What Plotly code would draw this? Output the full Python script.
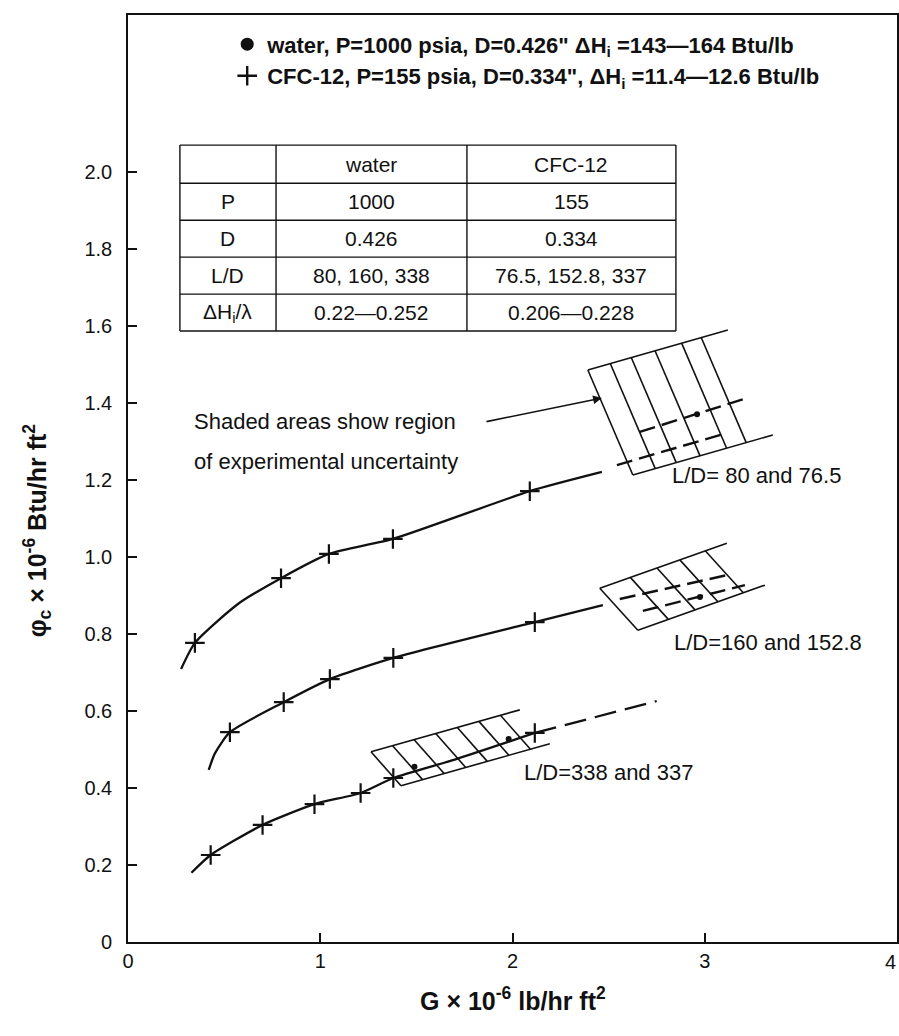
import plotly.graph_objects as go

# ---------------- data (G x 10^-6 lb/hr ft2, phi_c x 10^-6 Btu/hr ft2) ----------------
# CFC-12 measured points (+)
g_ld80 = [0.348, 0.796, 1.045, 1.378, 2.09]
phi_ld80 = [0.777, 0.945, 1.008, 1.047, 1.171]
g_ld160 = [0.53, 0.81, 1.05, 1.38, 2.116]
phi_ld160 = [0.545, 0.623, 0.683, 0.738, 0.831]
g_ld338 = [0.43, 0.70, 0.97, 1.21, 1.38, 2.116]
phi_ld338 = [0.226, 0.304, 0.358, 0.387, 0.426, 0.543]

# faired curves through the CFC-12 data
curve_ld80_g = [0.276, 0.348, 0.572, 0.796, 1.045, 1.378, 2.09, 2.465]
curve_ld80_phi = [0.709, 0.777, 0.878, 0.945, 1.008, 1.047, 1.171, 1.221]
curve_ld160_g = [0.42, 0.452, 0.53, 0.81, 1.05, 1.38, 2.116, 2.47]
curve_ld160_phi = [0.447, 0.49, 0.545, 0.623, 0.683, 0.738, 0.831, 0.875]
curve_ld338_g = [0.33, 0.43, 0.70, 0.97, 1.21, 1.38, 1.70, 2.116]
curve_ld338_phi = [0.18, 0.226, 0.304, 0.358, 0.387, 0.426, 0.474, 0.543]
extrap_ld338_g = [2.116, 2.75]
extrap_ld338_phi = [0.543, 0.626]

# water points (filled circles)
water_g = [1.49, 1.98, 2.975, 2.96]
water_phi = [0.455, 0.527, 0.896, 1.371]

# uncertainty bands: upper edge end points, offset of the lower edge, hatch stations
band_ld80_g = [2.392, 3.120]
band_ld80_phi = [1.486, 1.590]
band_ld80_offset = [0.234, -0.273]
band_ld80_hatch = [0, 0.16, 0.31, 0.48, 0.67, 0.81]
band_ld160_g = [2.454, 3.115]
band_ld160_phi = [0.919, 1.036]
band_ld160_offset = [0.198, -0.109]
band_ld160_hatch = [0, 0.24, 0.45, 0.63, 0.83]
band_ld338_g = [1.264, 2.038]
band_ld338_phi = [0.494, 0.603]
band_ld338_offset = [0.156, -0.088]
band_ld338_hatch = [0, 0.145, 0.29, 0.435, 0.58, 0.725, 0.87]

# dashed trend lines inside the bands
band_ld80_upper_g = [2.662, 3.219]
band_ld80_upper_phi = [1.325, 1.413]
band_ld80_lower_g = [2.543, 3.115]
band_ld80_lower_phi = [1.239, 1.322]
band_ld160_upper_g = [2.558, 3.115]
band_ld160_upper_phi = [0.891, 0.953]
band_ld160_lower_g = [2.678, 3.209]
band_ld160_lower_phi = [0.860, 0.927]

# annotation arrow (tail -> head)
arrow_g = [1.857, 2.465]
arrow_phi = [1.351, 1.413]

# legend and table text
legend_labels = [
    "water, P=1000 psia, D=0.426\" \u0394H<sub>i</sub> =143\u2014164 Btu/lb",
    "CFC-12, P=155 psia, D=0.334\", \u0394H<sub>i</sub> =11.4\u201412.6 Btu/lb",
]
table_header = ["", "water", "CFC-12"]
table_rows = [
    ["P", "1000", "155"],
    ["D", "0.426", "0.334"],
    ["L/D", "80, 160, 338", "76.5, 152.8, 337"],
    ["\u0394H<sub>i</sub>/\u03bb", "0.22\u20140.252", "0.206\u20140.228"],
]
curve_labels = ["L/D= 80 and 76.5", "L/D=160 and 152.8", "L/D=338 and 337"]
curve_label_g = [2.818, 2.829, 2.049]
curve_label_phi = [1.213, 0.777, 0.44]
note_lines = ["Shaded areas show region", "of experimental uncertainty"]

x_ticks = [0, 1, 2, 3]
x_last = 4
y_ticks = [0, 0.2, 0.4, 0.6, 0.8, 1.0, 1.2, 1.4, 1.6, 1.8, 2.0]
y_tick_text = ["0", "0.2", "0.4", "0.6", "0.8", "1.0", "1.2", "1.4", "1.6", "1.8", "2.0"]

# ---------------- styling ----------------
INK = "#111111"
THIN = "Liberation Sans, Arial, sans-serif"
BOLD = "Liberation Sans Narrow, Arial Narrow, Liberation Sans, sans-serif"

fig = go.Figure()


def curve(g, phi, dash="solid", width=2.3):
    fig.add_trace(go.Scatter(
        x=g, y=phi, mode="lines", showlegend=False, hoverinfo="skip",
        line=dict(color=INK, width=width, dash=dash, shape="spline", smoothing=0.6),
    ))


curve(curve_ld80_g, curve_ld80_phi)
curve(curve_ld160_g, curve_ld160_phi)
curve(curve_ld338_g, curve_ld338_phi)
curve(extrap_ld338_g, extrap_ld338_phi, dash="22px,9px")


def band(g, phi, off, stations):
    xs, ys = [], []
    dg, dp = g[1] - g[0], phi[1] - phi[0]
    # upper and lower edges
    xs += [g[0], g[1], None, g[0] + off[0], g[1] + off[0], None]
    ys += [phi[0], phi[1], None, phi[0] + off[1], phi[1] + off[1], None]
    # hatching
    for f in stations:
        x0, y0 = g[0] + f * dg, phi[0] + f * dp
        xs += [x0, x0 + off[0], None]
        ys += [y0, y0 + off[1], None]
    fig.add_trace(go.Scatter(x=xs, y=ys, mode="lines", showlegend=False, hoverinfo="skip",
                             line=dict(color=INK, width=1.6)))


band(band_ld80_g, band_ld80_phi, band_ld80_offset, band_ld80_hatch)
band(band_ld160_g, band_ld160_phi, band_ld160_offset, band_ld160_hatch)
band(band_ld338_g, band_ld338_phi, band_ld338_offset, band_ld338_hatch)

for g, p in [(band_ld80_upper_g, band_ld80_upper_phi), (band_ld80_lower_g, band_ld80_lower_phi),
             (band_ld160_upper_g, band_ld160_upper_phi), (band_ld160_lower_g, band_ld160_lower_phi)]:
    fig.add_trace(go.Scatter(x=g, y=p, mode="lines", showlegend=False, hoverinfo="skip",
                             line=dict(color=INK, width=2.4, dash="16px,7px")))

# data markers
for g, p in [(g_ld80, phi_ld80), (g_ld160, phi_ld160), (g_ld338, phi_ld338)]:
    fig.add_trace(go.Scatter(x=g, y=p, mode="markers", showlegend=False, hoverinfo="skip",
                             marker=dict(symbol="cross-thin", size=14, color=INK,
                                         line=dict(width=2.2, color=INK))))
fig.add_trace(go.Scatter(x=water_g, y=water_phi, mode="markers", showlegend=False, hoverinfo="skip",
                         marker=dict(symbol="circle", size=6, color=INK)))

# legend entries
fig.add_trace(go.Scatter(x=[None], y=[None], mode="markers", name=legend_labels[0],
                         marker=dict(symbol="circle", size=13, color=INK)))
fig.add_trace(go.Scatter(x=[None], y=[None], mode="markers", name=legend_labels[1],
                         marker=dict(symbol="cross-thin", size=14, color=INK,
                                     line=dict(width=2.4, color=INK))))

# ---------------- table ----------------
col_edges = [0.270, 0.770, 1.763, 2.850]
row_edges = [2.070, 1.971, 1.875, 1.779, 1.683, 1.587]
shapes = []
for xe in col_edges:
    shapes.append(dict(type="line", xref="x", yref="y", x0=xe, x1=xe, y0=row_edges[-1], y1=row_edges[0],
                       line=dict(color=INK, width=1.4)))
for ye in row_edges:
    shapes.append(dict(type="line", xref="x", yref="y", x0=col_edges[0], x1=col_edges[-1], y0=ye, y1=ye,
                       line=dict(color=INK, width=1.4)))

annotations = []
for r, row in enumerate([table_header] + table_rows):
    yc = (row_edges[r] + row_edges[r + 1]) / 2
    for c, txt in enumerate(row):
        if not txt:
            continue
        xc = (col_edges[c] + col_edges[c + 1]) / 2
        annotations.append(dict(x=xc, y=yc, xref="x", yref="y", text=txt, showarrow=False,
                                font=dict(family=THIN, size=21, color=INK)))

for txt, gx, py in zip(curve_labels, curve_label_g, curve_label_phi):
    annotations.append(dict(x=gx, y=py, xref="x", yref="y", text=txt, showarrow=False,
                            xanchor="left", font=dict(family=THIN, size=22, color=INK)))

for txt, py in zip(note_lines, [1.351, 1.249]):
    annotations.append(dict(x=0.333, y=py, xref="x", yref="y", text=txt, showarrow=False,
                            xanchor="left", font=dict(family=THIN, size=22, color=INK)))

annotations.append(dict(x=arrow_g[1], y=arrow_phi[1], ax=arrow_g[0], ay=arrow_phi[0],
                        xref="x", yref="y", axref="x", ayref="y", text="", showarrow=True,
                        arrowhead=2, arrowsize=1.1, arrowwidth=1.6, arrowcolor=INK))

# last x tick label sits against the right frame edge
annotations.append(dict(x=x_last, y=0, xref="x", yref="y", text=str(x_last), showarrow=False,
                        xanchor="right", yanchor="top", yshift=-7, xshift=1,
                        font=dict(family=THIN, size=20, color=INK)))

# axis titles
annotations.append(dict(x=0.5, y=-0.062, xref="paper", yref="paper", yanchor="middle",
                        text="G \u00d7 10<sup>-6</sup> lb/hr ft<sup>2</sup>", showarrow=False,
                        font=dict(family=BOLD, size=25, color=INK, weight="bold")))
annotations.append(dict(x=-0.118, y=1.07, xref="paper", yref="y", xanchor="center", yanchor="middle",
                        textangle=-90,
                        text="\u03c6<sub>c</sub> \u00d7 10<sup>-6</sup> Btu/hr ft<sup>2</sup>",
                        showarrow=False, font=dict(family=BOLD, size=25, color=INK, weight="bold")))

fig.update_layout(
    width=899, height=1036,
    margin=dict(l=128, r=2, t=15, b=94),
    paper_bgcolor="white", plot_bgcolor="white",
    shapes=shapes, annotations=annotations,
    legend=dict(x=0.129, y=0.991, xanchor="left", yanchor="top", bgcolor="rgba(0,0,0,0)",
                font=dict(family=BOLD, size=22, color=INK, weight="bold"), itemsizing="trace",
                tracegroupgap=0),
    xaxis=dict(range=[0, 4], showline=True, linecolor=INK, linewidth=1.6, mirror=True,
               ticks="inside", ticklen=9, tickwidth=1.6, tickcolor=INK,
               tickvals=x_ticks, ticktext=[str(v) for v in x_ticks],
               showgrid=False, zeroline=False, automargin=False,
               tickfont=dict(family=THIN, size=20, color=INK)),
    yaxis=dict(range=[0, 2.408], showline=True, linecolor=INK, linewidth=1.6, mirror=True,
               ticks="inside", ticklen=9, tickwidth=1.6, tickcolor=INK,
               tickvals=y_ticks, ticktext=y_tick_text, ticklabelstandoff=10,
               showgrid=False, zeroline=False, automargin=False,
               tickfont=dict(family=THIN, size=20, color=INK)),
)

fig.write_html("out.html")
